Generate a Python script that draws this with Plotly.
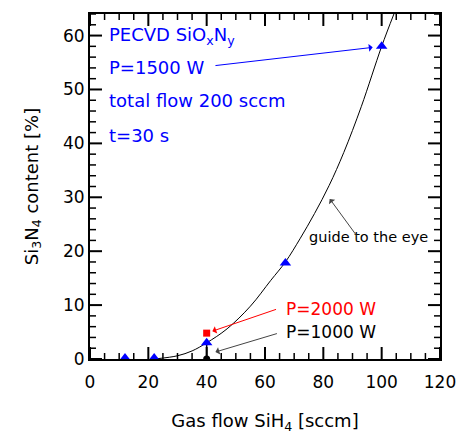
import plotly.graph_objects as go

# Data
p1500_x = [12, 22, 40, 67, 100]
p1500_y = [0.2, 0.2, 3.0, 17.8, 58]
p2000_x = [40]
p2000_y = [4.8]
p1000_x = [40]
p1000_y = [0]
p1000_bar = [3.0]
guide_x = [23, 30, 35, 40, 47, 55, 62, 67, 72, 77, 82, 87, 93, 100, 104.2]
guide_y = [0.05, 0.6, 1.5, 3.0, 5.6, 9.8, 14.6, 18.0, 22.3, 27.0, 32.2, 38.3, 46.8, 58, 64]

FONT = "DejaVu Sans"
BLUE = "#0000ff"

fig = go.Figure()
fig.add_trace(go.Scatter(x=guide_x, y=guide_y, mode="lines",
                         line=dict(color="black", width=1, shape="spline", smoothing=1),
                         showlegend=False, hoverinfo="skip"))
fig.add_trace(go.Scatter(x=p1000_x, y=p1000_y, mode="markers",
                         marker=dict(symbol="circle", size=7, color="black"),
                         error_y=dict(type="data", symmetric=False, array=p1000_bar,
                                      arrayminus=[0], width=0, thickness=1.5, color="black"),
                         showlegend=False))
fig.add_trace(go.Scatter(x=p1500_x, y=p1500_y, mode="markers",
                         marker=dict(symbol="triangle-up", size=10, color=BLUE),
                         showlegend=False))
fig.add_trace(go.Scatter(x=p2000_x, y=p2000_y, mode="markers",
                         marker=dict(symbol="square", size=7, color="red"),
                         showlegend=False))

texts = [
    ("PECVD SiO<sub>x</sub>N<sub>y</sub>", 59.9),
    ("P=1500 W", 54.0),
    ("total flow 200 sccm", 47.9),
    ("t=30 s", 41.4),
]
for t, yy in texts:
    fig.add_annotation(x=5.8, y=yy, text=t, showarrow=False, xanchor="left",
                       yanchor="middle", font=dict(family=FONT, size=18, color=BLUE))

fig.add_annotation(x=66.5, y=9.2, text="P=2000 W", showarrow=False, xanchor="left",
                   yanchor="middle", font=dict(family=FONT, size=17, color="red"))
fig.add_annotation(x=66.5, y=5.0, text="P=1000 W", showarrow=False, xanchor="left",
                   yanchor="middle", font=dict(family=FONT, size=17, color="black"))
fig.add_annotation(x=74.3, y=22.6, text="guide to the eye", showarrow=False, xanchor="left",
                   yanchor="middle", font=dict(family=FONT, size=14.5, color="black"))

arrows = [
    (p1500_x[4], p1500_y[4], 42.5, 54.4, BLUE, 9),
    (p2000_x[0], p2000_y[0], 64.3, 9.3, "red", 6),
    (43.0, 1.3, 64.6, 4.8, "#444444", 0),
    (82.2, 29.7, 91.8, 22.6, "#444444", 0),
]
for x, y, ax, ay, c, so in arrows:
    fig.add_annotation(x=x, y=y, ax=ax, ay=ay, xref="x", yref="y", axref="x", ayref="y",
                       text="", showarrow=True, arrowhead=1, arrowsize=1.3, arrowwidth=1,
                       arrowcolor=c, standoff=so)

# Tick marks drawn on all four sides (inside), major and minor
X_MAX, Y_MAX = 120, 64
for v in range(0, X_MAX + 1, 5):
    major = v % 20 == 0
    L = 12 if major else 6
    w = 2 if major else 1.5
    for anchor, sign in ((0, 1), (1, -1)):
        fig.add_shape(type="line", xref="x", yref="paper", x0=v, x1=v,
                      ysizemode="pixel", yanchor=anchor, y0=0, y1=sign * L,
                      line=dict(color="black", width=w), layer="above")
for v in range(0, Y_MAX + 1, 2):
    major = v % 10 == 0
    L = 12 if major else 6
    w = 2 if major else 1.5
    for anchor, sign in ((0, 1), (1, -1)):
        fig.add_shape(type="line", xref="paper", yref="y", y0=v, y1=v,
                      xsizemode="pixel", xanchor=anchor, x0=0, x1=sign * L,
                      line=dict(color="black", width=w), layer="above")

fig.update_layout(
    xaxis=dict(range=[0, X_MAX], tickmode="linear", dtick=20, tick0=0,
               showline=True, linecolor="black", linewidth=2, mirror=True,
               ticks="", showgrid=False, zeroline=False, ticklabelstandoff=7,
               automargin=False,
               tickfont=dict(family=FONT, size=17, color="black"),
               title=dict(text="Gas flow SiH<sub>4</sub> [sccm]", standoff=26,
                          font=dict(family=FONT, size=18, color="black"))),
    yaxis=dict(range=[0, Y_MAX], tickmode="linear", dtick=10, tick0=0,
               showline=True, linecolor="black", linewidth=2, mirror=True,
               ticks="", showgrid=False, zeroline=False, automargin=False,
               tickfont=dict(family=FONT, size=17, color="black"),
               title=dict(text="Si<sub>3</sub>N<sub>4</sub> content [%]", standoff=20,
                          font=dict(family=FONT, size=18, color="black"))),
    width=466, height=434, margin=dict(l=90, r=26, t=14, b=75, autoexpand=False),
    plot_bgcolor="white", paper_bgcolor="white",
    font=dict(family=FONT, color="black"), showlegend=False,
)

fig.write_html("out.html")
